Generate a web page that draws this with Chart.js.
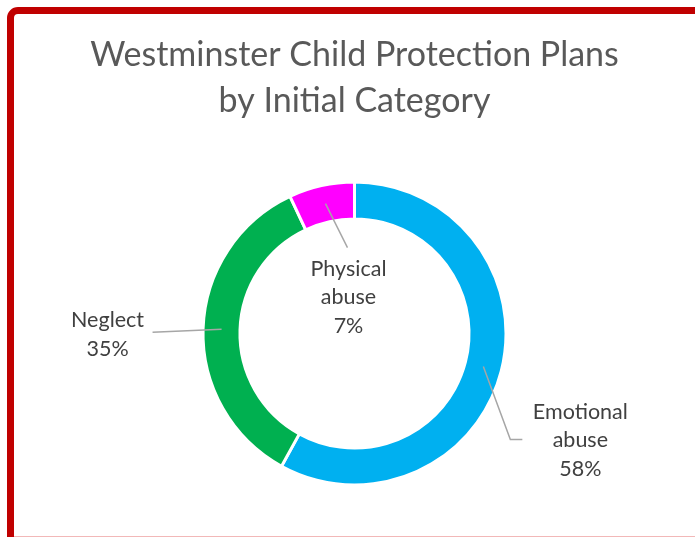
<!DOCTYPE html>
<html>
<head>
<meta charset="utf-8">
<script src="https://cdn.jsdelivr.net/npm/chart.js@4/dist/chart.umd.min.js"></script>
<style>
  html, body { margin: 0; padding: 0; background: #ffffff; overflow: hidden; }
  #wrap { position: relative; width: 695px; height: 537px; overflow: hidden; }
  #frame {
    position: absolute; left: 7px; top: 7px; width: 730px; height: 560px;
    box-sizing: border-box; border: 7px solid #C00000; border-radius: 11px;
  }
  #edge { position: absolute; left: 14px; top: 536px; width: 700px; height: 1px; background: #F2B8B8; }
  canvas { position: absolute; left: 0; top: 0; }
</style>
</head>
<body>
<div id="wrap">
  <div id="frame"></div>
  <div id="edge"></div>
  <canvas id="c" width="695" height="537"></canvas>
</div>
<script>
// Child protection plans by initial category (percent of plans)
const categories = ['Emotional abuse', 'Neglect', 'Physical abuse'];
const shares = [58, 35, 7];
const sliceColors = ['#00B0F0', '#00B050', '#FF00FF'];
const titleLines = ['Westminster Child Protection Plans', 'by Initial Category'];

// Callout geometry for each slice label, relative to the middle of its ring segment
const calloutLayout = [
  { leader: [[27, 73], [39, 73]], textX: 97, firstLineY: 45 },
  { leader: [[-69, 3]], textX: -114, firstLineY: -9 },
  { leader: [[22, 44]], textX: 23, firstLineY: 65 }
];

const calloutPlugin = {
  id: 'callouts',
  afterDatasetsDraw(chart) {
    const ctx = chart.ctx;
    const arcs = chart.getDatasetMeta(0).data;
    const lineGap = 28.5;
    ctx.save();
    arcs.forEach((arc, i) => {
      const p = arc.getProps(['x', 'y', 'startAngle', 'endAngle', 'innerRadius', 'outerRadius'], true);
      const mid = (p.startAngle + p.endAngle) / 2;
      const r = (p.innerRadius + p.outerRadius) / 2;
      const ax = p.x + Math.cos(mid) * r;
      const ay = p.y + Math.sin(mid) * r;
      const lay = calloutLayout[i];
      ctx.beginPath();
      ctx.moveTo(ax, ay);
      lay.leader.forEach(([dx, dy]) => ctx.lineTo(ax + dx, ay + dy));
      ctx.strokeStyle = '#A6A6A6';
      ctx.lineWidth = 1.5;
      ctx.stroke();
      const lines = categories[i].split(' ').concat([shares[i] + '%']);
      ctx.fillStyle = '#404040';
      ctx.font = '21.5px Lato, "Open Sans", sans-serif';
      ctx.textAlign = 'center';
      ctx.textBaseline = 'middle';
      lines.forEach((t, k) => {
        ctx.fillText(t, ax + lay.textX, ay + lay.firstLineY + k * lineGap);
      });
    });
    ctx.restore();
  }
};

new Chart(document.getElementById('c'), {
  type: 'doughnut',
  data: {
    labels: categories,
    datasets: [{
      data: shares,
      backgroundColor: sliceColors,
      borderColor: '#ffffff',
      borderWidth: 3,
      hoverOffset: 0
    }]
  },
  options: {
    responsive: false,
    animation: false,
    cutout: '75.6%',
    layout: { padding: { top: 0, left: 14, right: 0, bottom: 50.5 } },
    plugins: {
      legend: { display: false },
      tooltip: { enabled: false },
      title: {
        display: true,
        text: titleLines,
        color: '#595959',
        font: { family: 'Lato, "Open Sans", sans-serif', size: 34, weight: 'normal', lineHeight: 46 / 34 },
        padding: { top: 32, bottom: 56.5 }
      }
    }
  },
  plugins: [calloutPlugin]
});
</script>
</body>
</html>
